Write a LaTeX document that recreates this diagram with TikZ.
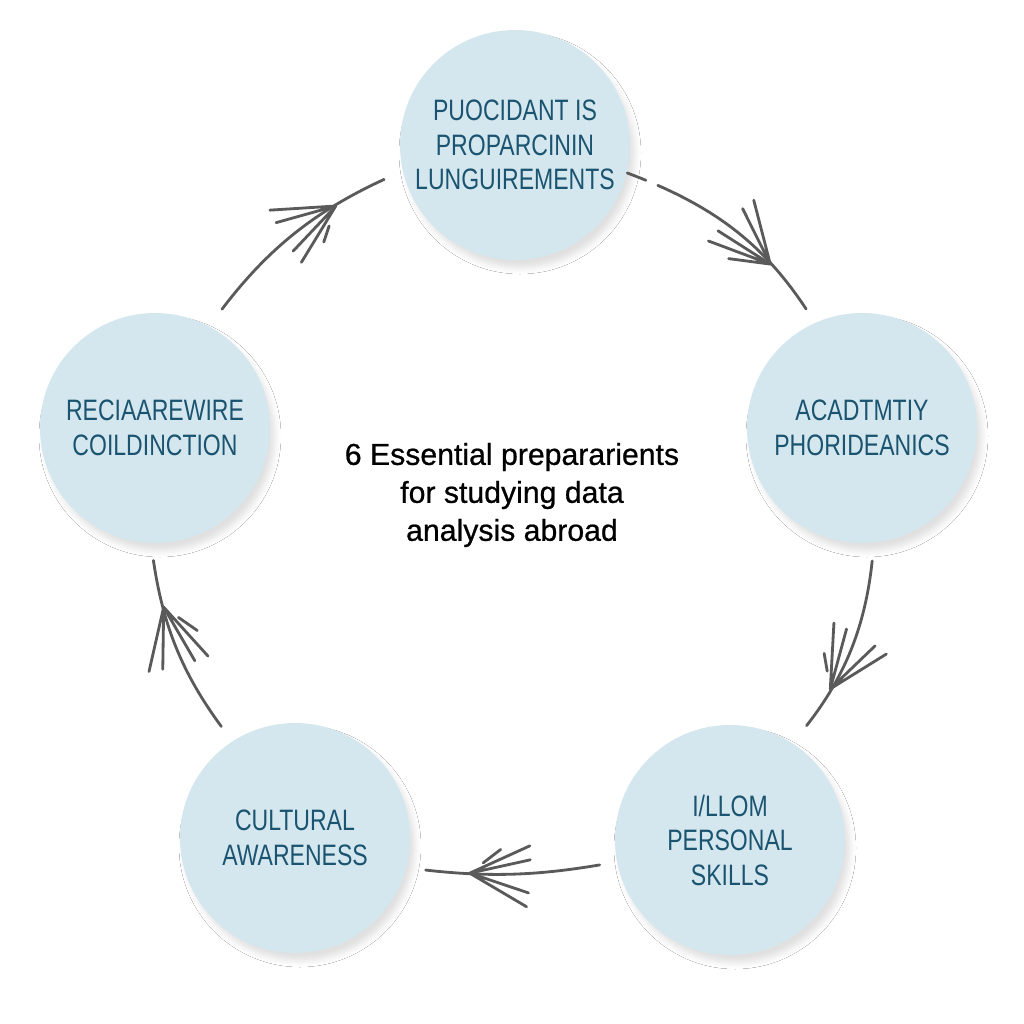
\documentclass[tikz,border=0pt]{standalone}
\usepackage{fontspec}
\setmainfont{Liberation Sans}
\newfontfamily\narrowfont[FakeStretch=0.78]{Liberation Sans}
\newfontfamily\titlefont[FakeBold=0.7]{Liberation Sans}
\usetikzlibrary{decorations.markings,shadows.blur}
\definecolor{bubblefill}{HTML}{D4E7EE}
\definecolor{bubbletext}{HTML}{1B5470}
\definecolor{linegray}{HTML}{5A5A5A}
% fan of barbs drawn at a marking
\newcommand{\feathertip}{%
\draw[solid, linegray, line width=0.8pt, line cap=round]
 (0,0) -- (152:0.66) (0,0) -- (164:0.62)
 (0,0) -- (195:0.62) (0,0) -- (207:0.66) (0,0) -- (220:0.58);}

\begin{document}
\begin{tikzpicture}[line cap=round]
\useasboundingbox (0,0) rectangle (10.24,-10.24);
\fill[white] (0,0) rectangle (10.24,-10.24);
\tikzstyle{every node}=[align=center]
\tikzstyle{bubble}=[circle, fill=bubblefill, minimum size=23mm, inner sep=0pt, text=bubbletext,
  font=\narrowfont\fontsize{8.4}{9.8}\selectfont,
  blur shadow={shadow xshift=0.5mm, shadow yshift=-0.8mm, shadow blur radius=0.6mm, shadow opacity=12}]
\tikzstyle{link}=[draw=linegray, line width=0.8pt,
  postaction={decorate, decoration={markings, mark=at position 0.7 with {\feathertip}}}]

% the five steps
\node[bubble] (req) at (5.15,-1.45) {PUOCIDANT IS\\PROPARCININ\\LUNGUIREMENTS};
\node[bubble] (acad) at (8.62,-4.28) {ACADTMTIY\\PHORIDEANICS};
\node[bubble] (pers) at (7.30,-8.40) {I/LLOM\\PERSONAL\\SKILLS};
\node[bubble] (cult) at (2.95,-8.38) {CULTURAL\\AWARENESS};
\node[bubble] (reci) at (1.55,-4.28) {RECIAAREWIRE\\COILDINCTION};

\node[font=\titlefont\fontsize{8.6}{10.8}\selectfont] (title) at (5.12,-4.95)
  {6 Essential prepararients\\for studying data\\analysis abroad};

% clockwise links
\path[link, dash pattern=on 2mm off 1.3mm on 40cm, shorten >=1.6mm] (req.-14) to[bend left=18] (acad.114);
\path[link, shorten <=1.8mm, shorten >=2.2mm] (acad.-84) to[bend left=16] (pers.57);
\path[link, shorten <=1.7mm, shorten >=1.9mm] (pers.191) to[bend left=8] (cult.-15);
\path[link, shorten <=1.8mm, shorten >=1.7mm] (cult.123) to[bend left=14] (reci.-92);
\path[link, shorten <=2.1mm, shorten >=2.0mm] (reci.62) to[bend left=14] (req.193);

\end{tikzpicture}
\end{document}
